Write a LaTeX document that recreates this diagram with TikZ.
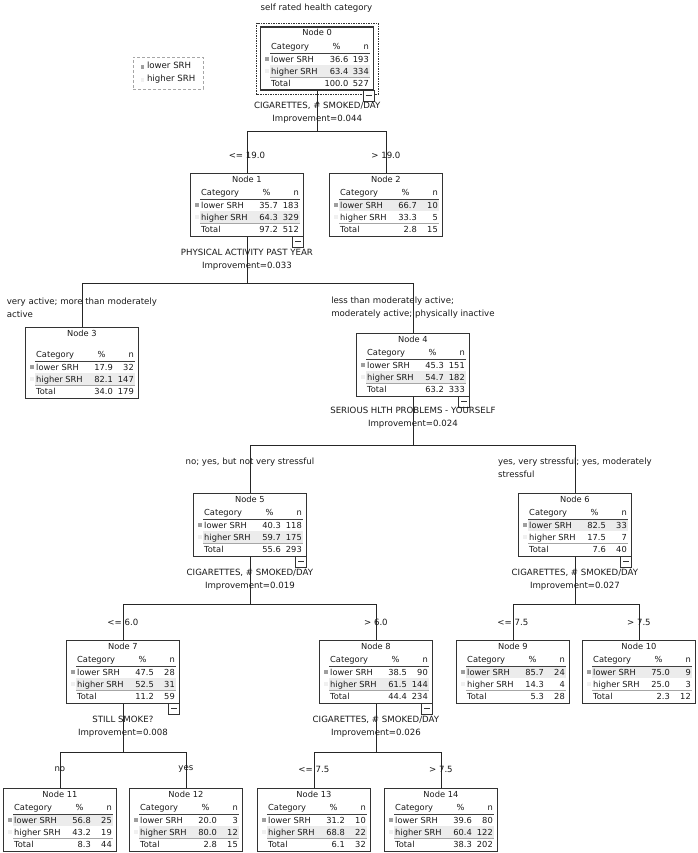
\documentclass[tikz,border=0pt]{standalone}
\usepackage{fontspec}
\setmainfont{DejaVu Sans}
\usepackage{xcolor}
\usepackage{tikz}
\usetikzlibrary{calc,positioning}

% column of the % values
\newcommand{\pcol}{88}
% table inside a tree node: name, number, lower %, lower n, higher %, higher n, total %, total n, row to shade
\newcommand{\srhtable}[9]{%
  \begin{scope}[shift={(#1.south west)}]
    \ifnum#9=1
      \fill[hirow] (10,-37) rectangle (110,-25.5);
    \else
      \fill[hirow] (10,-25.5) rectangle (110,-14);
    \fi
    \fill[lowmark] (4.5,-33.5) rectangle (8.5,-29.5);
    \fill[highmark] (4.5,-21.5) rectangle (8.5,-17.5);
    \node[cell, anchor=base west] at (11,-41) {Category};
    \node[cell, anchor=base] at (76.5,-41) {\%};
    \node[cell, anchor=base east] at (109,-41) {n};
    \draw[headrule] (10,-37.5) -- (110,-37.5);
    \node[cell, anchor=base west] at (11,-28.5) {lower SRH};
    \node[cell, anchor=base east] at (\pcol,-28.5) {#3};
    \node[cell, anchor=base east] at (109,-28.5) {#4};
    \node[cell, anchor=base west] at (11,-16.5) {higher SRH};
    \node[cell, anchor=base east] at (\pcol,-16.5) {#5};
    \node[cell, anchor=base east] at (109,-16.5) {#6};
    \draw[totalrule] (10,-13.5) -- (110,-13.5);
    \node[cell, anchor=base west] at (11,-4) {Total};
    \node[cell, anchor=base east] at (\pcol,-4) {#7};
    \node[cell, anchor=base east] at (109,-4) {#8};
  \end{scope}
  \node[cell, anchor=base] at ($(#1.north)+(0,9.5)$) {Node #2};
}

\begin{document}
\begin{tikzpicture}[
  x=1pt, y=-1pt,
  every node/.style={font=\fontsize{8.6}{12.8}\selectfont, text=black!90},
  treebox/.style={draw=black!80, line width=0.8pt, minimum width=113pt,
    minimum height=63pt, inner sep=0, anchor=north west},
  cell/.style={inner sep=0, font=\fontsize{8.3}{10}\selectfont},
  hirow/.style={fill=gray!15},
  lowmark/.style={fill=gray!75},
  highmark/.style={fill=gray!12},
  headrule/.style={draw=black!75, line width=0.8pt},
  totalrule/.style={draw=gray!70, line width=1.4pt},
  collapse/.style={draw=black!80, fill=white, line width=0.6pt, minimum size=11pt,
    inner sep=0, anchor=north east,
    path picture={\draw[black!80] ($(path picture bounding box.west)+(2.5pt,0)$) -- ++(6pt,0);}},
  edge/.style={draw=black!85, line width=0.7pt},
  split/.style={align=center, inner sep=0},
  branch/.style={align=left, inner sep=0},
  selbox/.style={draw=black!80, line width=0.8pt, dash pattern=on 1.5pt off 1pt},
  keybox/.style={draw=gray!70, line width=0.6pt, dash pattern=on 3pt off 2pt,
    minimum width=70pt, minimum height=32pt, align=left, inner sep=0}
]
  \useasboundingbox (0,0) rectangle (697,853);

  \node[inner sep=0] (title) at (316.5,8) {self rated health category};
  \node[keybox] (key) at (168,73) {\textcolor{gray!75}{\rule{3.5pt}{3.5pt}} lower SRH\\
    \textcolor{gray!12}{\rule{3.5pt}{3.5pt}} higher SRH};

  % tree nodes
  \node[treebox, line width=1.4pt] (n0) at (260,26.5) {};
  \node[treebox] (n1) at (190,173) {};
  \node[treebox] (n2) at (329,173) {};
  \node[treebox, minimum height=71pt] (n3) at (25,327) {};
  \node[treebox] (n4) at (356,333) {};
  \node[treebox] (n5) at (193,493) {};
  \node[treebox] (n6) at (518,493) {};
  \node[treebox] (n7) at (66,640) {};
  \node[treebox] (n8) at (319,640) {};
  \node[treebox] (n9) at (456,640) {};
  \node[treebox] (n10) at (582,640) {};
  \node[treebox] (n11) at (3,788) {};
  \node[treebox] (n12) at (129,788) {};
  \node[treebox] (n13) at (257,788) {};
  \node[treebox] (n14) at (384,788) {};

  \draw[selbox] ($(n0.north west)+(-3.5,-3.5)$) rectangle ($(n0.south east)+(3.5,3.5)$);

  \renewcommand{\pcol}{88.5}
  \srhtable{n0}{0}{36.6}{193}{63.4}{334}{100.0}{527}{2}
  \renewcommand{\pcol}{88}
  \srhtable{n1}{1}{35.7}{183}{64.3}{329}{97.2}{512}{2}
  \srhtable{n2}{2}{66.7}{10}{33.3}{5}{2.8}{15}{1}
  \srhtable{n3}{3}{17.9}{32}{82.1}{147}{34.0}{179}{2}
  \srhtable{n4}{4}{45.3}{151}{54.7}{182}{63.2}{333}{2}
  \srhtable{n5}{5}{40.3}{118}{59.7}{175}{55.6}{293}{2}
  \srhtable{n6}{6}{82.5}{33}{17.5}{7}{7.6}{40}{1}
  \srhtable{n7}{7}{47.5}{28}{52.5}{31}{11.2}{59}{2}
  \srhtable{n8}{8}{38.5}{90}{61.5}{144}{44.4}{234}{2}
  \srhtable{n9}{9}{85.7}{24}{14.3}{4}{5.3}{28}{1}
  \srhtable{n10}{10}{75.0}{9}{25.0}{3}{2.3}{12}{1}
  \srhtable{n11}{11}{56.8}{25}{43.2}{19}{8.3}{44}{1}
  \srhtable{n12}{12}{20.0}{3}{80.0}{12}{2.8}{15}{2}
  \srhtable{n13}{13}{31.2}{10}{68.8}{22}{6.1}{32}{2}
  \srhtable{n14}{14}{39.6}{80}{60.4}{122}{38.3}{202}{2}

  % splits
  \coordinate (b0) at (n0 |- 0,131);
  \coordinate (b1) at (n1 |- 0,283);
  \coordinate (b4) at (n4 |- 0,445);
  \coordinate (b5) at (n5 |- 0,604);
  \coordinate (b6) at (n6 |- 0,604);
  \coordinate (b7) at (n7 |- 0,752);
  \coordinate (b8) at (n8 |- 0,752);

  \draw[edge] (n0.south) -- (b0) -| (n1.north);
  \draw[edge] (b0) -| (n2.north);
  \draw[edge] (n1.south) -- (b1) -| (n3.north);
  \draw[edge] (b1) -| (n4.north);
  \draw[edge] (n4.south) -- (b4) -| (n5.north);
  \draw[edge] (b4) -| (n6.north);
  \draw[edge] (n5.south) -- (b5) -| (n7.north);
  \draw[edge] (b5) -| (n8.north);
  \draw[edge] (n6.south) -- (b6) -| (n9.north);
  \draw[edge] (b6) -| (n10.north);
  \draw[edge] (n7.south) -- (b7) -| (n11.north);
  \draw[edge] (b7) -| (n12.north);
  \draw[edge] (n8.south) -- (b8) -| (n13.north);
  \draw[edge] (b8) -| (n14.north);

  \node[collapse] (m0) at ($(n0.south east)+(0,-1)$) {};
  \node[collapse] (m1) at ($(n1.south east)+(0,-1)$) {};
  \node[collapse] (m4) at ($(n4.south east)+(0,-1)$) {};
  \node[collapse] (m5) at ($(n5.south east)+(0,-1)$) {};
  \node[collapse] (m6) at ($(n6.south east)+(0,-1)$) {};
  \node[collapse] (m7) at ($(n7.south east)+(0,-1)$) {};
  \node[collapse] (m8) at ($(n8.south east)+(0,-1)$) {};

  \node[split] (s0) at (n0 |- 0,112.5) {CIGARETTES, \# SMOKED/DAY\\Improvement=0.044};
  \node[split] (s1) at (n1 |- 0,260) {PHYSICAL ACTIVITY PAST YEAR\\Improvement=0.033};
  \node[split] (s4) at (n4 |- 0,418) {SERIOUS HLTH PROBLEMS - YOURSELF\\Improvement=0.024};
  \node[split] (s5) at (n5 |- 0,579.5) {CIGARETTES, \# SMOKED/DAY\\Improvement=0.019};
  \node[split] (s6) at (n6 |- 0,579.5) {CIGARETTES, \# SMOKED/DAY\\Improvement=0.027};
  \node[split] (s7) at (n7 |- 0,727) {STILL SMOKE?\\Improvement=0.008};
  \node[split] (s8) at (n8 |- 0,727) {CIGARETTES, \# SMOKED/DAY\\Improvement=0.026};

  % branch labels
  \node[branch] (e1) at (n1 |- 0,155) {<= 19.0};
  \node[branch] (e2) at (n2 |- 0,155) {> 19.0};
  \node[branch] (e3) at (n3 |- 0,308) {very active; more than moderately\\active};
  \node[branch] (e4) at (n4 |- 0,308) {less than moderately active;\\moderately active; physically inactive};
  \node[branch] (e5) at (n5 |- 0,462) {no; yes, but not very stressful};
  \node[branch] (e6) at (n6 |- 0,468) {yes, very stressful; yes, moderately\\stressful};
  \node[branch] (e7) at (n7 |- 0,622) {<= 6.0};
  \node[branch] (e8) at (n8 |- 0,622) {> 6.0};
  \node[branch] (e9) at (n9 |- 0,622) {<= 7.5};
  \node[branch] (e10) at (n10 |- 0,622) {> 7.5};
  \node[branch] (e11) at (n11 |- 0,769) {no};
  \node[branch] (e12) at (n12 |- 0,769) {yes};
  \node[branch] (e13) at (n13 |- 0,769) {<= 7.5};
  \node[branch] (e14) at (n14 |- 0,769) {> 7.5};
\end{tikzpicture}
\end{document}
